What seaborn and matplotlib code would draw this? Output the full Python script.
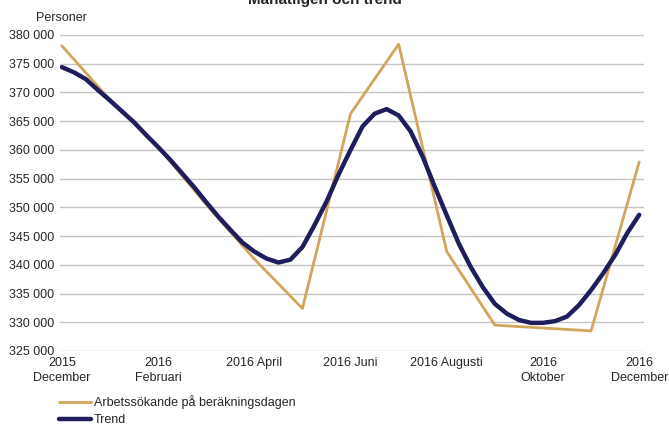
import numpy as np
import pandas as pd
import matplotlib
matplotlib.use("Agg")
import matplotlib.pyplot as plt
import seaborn as sns

# månadsvärden, dec 2015 - dec 2016
manad = list(range(13))
arbetssokande = [378100, 368700, 360500, 350500, 341000, 332400, 366300,
                 378400, 342300, 329500, 329000, 328500, 357900]

# trend, avläst varje kvartsmånad
trend_x = [i / 4 for i in range(49)]
trend = [374400, 373500, 372300, 370400, 368600, 366700, 364800, 362600,
         360500, 358300, 355900, 353500, 350900, 348400, 346100, 343900,
         342300, 341100, 340400, 340900, 343100, 346900, 351000, 355700,
         360000, 364100, 366300, 367100, 366000, 363200, 358800, 353600,
         348600, 343700, 339600, 336100, 333200, 331500, 330400, 329900,
         329900, 330200, 331000, 333000, 335600, 338500, 341700, 345500,
         348700]

tick_pos = [0, 2, 4, 6, 8, 10, 12]
tick_labels = ["2015\nDecember", "2016\nFebruari", "2016 April", "2016 Juni",
               "2016 Augusti", "2016\nOktober", "2016\nDecember"]

guld = "#D1A55C"
marin = "#1E1E5C"

sns.set_style("white")
plt.rcParams["font.family"] = ["Liberation Sans", "DejaVu Sans"]

fig = plt.figure(figsize=(6.69, 4.28), dpi=100)
ax = fig.add_axes([60 / 669, 1 - 351 / 428, 584 / 669, 316 / 428])

df_m = pd.DataFrame({"x": manad, "y": arbetssokande})
df_t = pd.DataFrame({"x": trend_x, "y": trend})
sns.lineplot(data=df_m, x="x", y="y", ax=ax, color=guld, linewidth=2.0,
             label="Arbetssökande på beräkningsdagen")
sns.lineplot(data=df_t, x="x", y="y", ax=ax, color=marin, linewidth=3.2,
             label="Trend")

ax.set_xlim(-0.04, 12.1)
ax.set_ylim(325000, 380000)
ax.set_yticks(np.arange(325000, 380001, 5000))
ax.set_yticklabels([f"{v:,}".replace(",", " ") for v in range(325000, 380001, 5000)],
                   fontsize=9)
ax.set_xticks(tick_pos)
ax.set_xticklabels(tick_labels, fontsize=9, va="top", linespacing=1.4)
ax.tick_params(axis="both", length=0, pad=4)
ax.yaxis.grid(True, color="#C4C4C4", linewidth=1)
ax.set_axisbelow(True)
for s in ax.spines.values():
    s.set_visible(False)
ax.set_xlabel("")
ax.set_ylabel("")

ax.get_legend().remove()
h, l = ax.get_legend_handles_labels()
fig.legend(h, l, loc="upper left", bbox_to_anchor=(0.08, 0.088), frameon=False,
           fontsize=9, handlelength=2.6, handletextpad=0.25, labelspacing=0.4,
           borderaxespad=0)

fig.text(0.054, 0.958, "Personer", fontsize=9, ha="left", va="center")
fig.text(0.486, 0.99, "Månatligen och trend", fontsize=11, fontweight="bold",
         ha="center", va="baseline")

fig.savefig("out.png", dpi=100)
